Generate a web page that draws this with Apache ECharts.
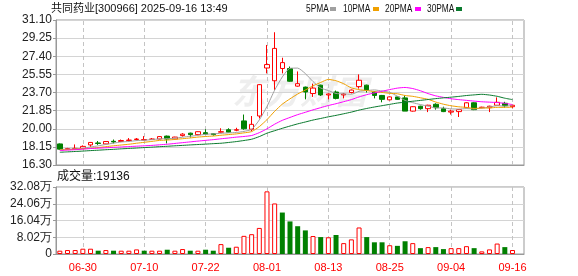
<!DOCTYPE html>
<html><head><meta charset="utf-8">
<script src="https://cdn.jsdelivr.net/npm/echarts@6/dist/echarts.min.js"></script>
<style>html,body{margin:0;padding:0;background:#fff}#c{width:578px;height:276px}</style>
</head><body><div id="c"></div>
<script>
const dates = ['06-25','06-26','06-27','06-30','07-01','07-02','07-03','07-04','07-07','07-08','07-09','07-10','07-11','07-14','07-15','07-16','07-17','07-18','07-21','07-22','07-23','07-24','07-25','07-28','07-29','07-30','07-31','08-01','08-04','08-05','08-06','08-07','08-08','08-11','08-12','08-13','08-14','08-15','08-18','08-19','08-20','08-21','08-22','08-25','08-26','08-27','08-28','08-29','09-01','09-02','09-03','09-04','09-05','09-08','09-09','09-10','09-11','09-12','09-15','09-16'];
const tickDates = ['06-30','07-10','07-22','08-01','08-13','08-25','09-04','09-16'];
const opens = [18.45,17.93,17.95,18.0,18.35,18.55,18.45,18.72,18.7,18.8,18.9,18.85,18.92,18.95,19.25,18.95,19.3,19.55,19.4,19.6,19.5,19.65,19.9,19.85,20.8,19.95,21.3,26.2,24.9,26.15,26.15,24.35,24.25,23.6,24.45,23.45,23.75,23.45,23.7,24.3,24.45,23.75,23.4,22.95,23.25,23.15,21.8,22.3,22.05,22.5,22.05,21.7,21.75,22.15,22.65,22.15,22.15,22.4,22.6,22.25];
const closes = [17.92,17.97,18.0,18.2,18.6,18.5,18.7,18.65,18.8,18.85,18.95,18.9,18.95,19.2,18.95,19.15,19.45,19.4,19.7,19.45,19.4,19.7,19.65,19.9,20.0,20.45,24.5,26.55,28.2,26.75,24.85,24.6,23.75,24.15,23.45,23.55,23.1,23.55,23.95,24.95,23.95,23.4,23.0,23.25,23.0,21.8,22.25,22.05,22.4,22.15,21.75,21.8,21.95,22.65,21.95,22.2,22.3,22.7,22.35,22.4];
const lows = [17.85,17.88,17.92,17.98,18.15,18.35,18.42,18.5,18.65,18.7,18.8,18.8,18.88,18.92,18.5,18.9,19.2,19.1,19.35,19.42,19.3,19.6,19.62,19.75,19.9,19.75,21.05,25.65,23.95,25.65,24.8,24.3,23.0,23.25,23.35,23.0,23.0,23.1,23.6,24.1,23.7,23.1,22.7,22.9,22.95,21.8,21.75,21.95,21.7,21.95,21.7,21.45,21.2,22.1,21.9,22.1,21.7,22.35,22.15,22.1];
const highs = [18.5,18.05,18.4,18.3,18.65,18.75,18.72,18.9,18.9,19.05,19.05,19.25,19.05,19.25,19.3,19.18,19.55,19.6,19.72,19.95,19.55,20.05,20.05,20.1,21.45,21.3,24.55,28.55,29.85,27.25,26.35,25.85,24.3,24.6,24.5,23.6,23.9,23.65,24.0,25.55,24.5,23.8,23.45,23.3,23.3,23.4,22.3,22.35,22.45,22.6,22.25,21.95,21.98,22.7,22.7,22.25,22.35,23.2,22.75,22.45];
const volumes = [1.58,1.9,1.9,2.53,2.53,1.58,1.9,1.58,1.58,1.58,2.2,1.58,1.58,1.58,2.05,1.58,2.37,1.58,1.58,2.05,1.58,4.74,3.0,3.48,8.69,9.48,12.48,30.0,24.2,19.85,15.6,13.3,11.3,8.6,8.1,8.0,9.1,5.2,7.0,12.7,8.1,5.6,5.6,4.2,3.9,6.1,5.2,2.8,3.3,3.3,2.35,2.8,2.8,3.75,2.8,1.25,2.2,5.0,3.3,1.9136];
// MA values for the first points (before a full window exists)
const ma5Head = [17.88,17.92,17.95,18.02];
const ma10Head = [17.84,17.87,17.9,17.95,18.0,18.08,18.17,18.26,18.34];
const ma20Head = [17.78,17.82,17.86,17.92,17.98,18.02,18.06,18.1,18.14,18.18,18.22,18.26,18.3,18.36,18.42,18.5,18.58,18.66,18.74];
const ma30Head = [17.60,17.64,17.68,17.72,17.77,17.81,17.86,17.90,17.95,17.99,18.03,18.08,18.12,18.17,18.21,18.26,18.30,18.35,18.39,18.43,18.48,18.52,18.60,18.69,18.80,18.93,19.20,19.55,19.80];
const priceTicks = [16.30,18.15,20.00,21.85,23.70,25.55,27.40,29.25,31.10];
const legendNames = ['5PMA','10PMA','20PMA','30PMA'];

function ma(n, head){
  return closes.map((c,i)=>{
    if(i < n-1) return head[i];
    let s=0; for(let k=i-n+1;k<=i;k++) s+=closes[k];
    return +(s/n).toFixed(3);
  });
}
const RED='#ff0000', GREEN='#008000';
const MA_COLORS=['#a0a0a0','#f0a000','#ff00ff','#0a7a2e'];
const cats = dates.concat(['']);
const labelFont = 'Liberation Sans';
const dashLines = tickDates.map(d=>({xAxis:d}));
const markLineCfg = {silent:true,symbol:'none',label:{show:false},lineStyle:{color:'#c4c4c4',type:[4,3],width:1},data:dashLines,animation:false,z:1};

const chart = echarts.init(document.getElementById('c'), null, {renderer:'canvas'});
const volData = volumes.map((v,i)=>{
  const up = i===0 ? true : closes[i] >= closes[i-1];
  return {value:v, itemStyle: up ? {color:'#ffffff',borderColor:RED,borderWidth:1} : {color:GREEN,borderColor:GREEN,borderWidth:0}};
});
const lastVol = Math.round(volumes[volumes.length-1]*10000);
const legendX = [306,343,385,427];
const swatchX = [330,373,415,456];
const graphics = [
  {type:'text',left:51,top:3,style:{text:'共同药业[300966] 2025-09-16 13:49',font:'11px "Liberation Sans","Noto Sans CJK SC"',fill:'#111'}},
  {type:'text',left:57,top:171,style:{text:'成交量:'+lastVol,font:'12px "Liberation Sans","Noto Sans CJK SC"',fill:'#111'}},
  {type:'text',left:232,top:74,z:-10,style:{text:'东方财富',font:'italic bold 34px "Noto Sans CJK SC"',fill:'rgba(0,0,0,0.065)'}}
];
legendNames.forEach((name,k)=>{
  graphics.push({type:'text',x:legendX[k],y:3,scaleX:0.76,style:{text:name,font:'11px "Liberation Sans"',fill:'#111'}});
  graphics.push({type:'rect',shape:{x:swatchX[k],y:7,width:6,height:4},style:{fill:MA_COLORS[k]}});
});

chart.setOption({
  animation:false,
  backgroundColor:'#ffffff',
  graphic:graphics,
  grid:[
    {left:56,right:54,top:20,height:145,show:true,borderColor:'#999',borderWidth:1,containLabel:false},
    {left:56,right:54,top:187,height:67,show:true,borderColor:'#999',borderWidth:1,containLabel:false}
  ],
  xAxis:[
    {type:'category',gridIndex:0,data:cats,boundaryGap:true,axisLine:{show:true,lineStyle:{color:'#999'}},axisTick:{show:false},axisLabel:{show:false},splitLine:{show:false}},
    {type:'category',gridIndex:1,data:cats,boundaryGap:true,axisLine:{show:true,lineStyle:{color:'#999'}},axisTick:{show:false},
      axisLabel:{show:true,color:RED,fontFamily:labelFont,fontSize:11,margin:8,interval:(i,v)=>tickDates.indexOf(v)>=0},splitLine:{show:false}}
  ],
  yAxis:[
    {type:'value',gridIndex:0,min:16.30,max:31.10,scale:true,
      axisLine:{show:true,lineStyle:{color:'#999'}},
      axisTick:{show:true,length:3,lineStyle:{color:'#999'},customValues:priceTicks},
      axisLabel:{color:'#222',fontFamily:labelFont,fontSize:12,margin:4,customValues:priceTicks,formatter:v=>v.toFixed(2)},
      splitLine:{show:true,lineStyle:{color:'#d4d4d4',width:1}}},
    {type:'value',gridIndex:1,min:0,max:32.08,interval:8.02,
      axisLine:{show:true,lineStyle:{color:'#999'}},
      axisTick:{show:true,length:3,lineStyle:{color:'#999'}},
      axisLabel:{color:'#222',fontFamily:labelFont,fontSize:12,margin:4,formatter:v=>v===0?'0':v.toFixed(2)+'万'},
      splitLine:{show:true,lineStyle:{color:'#d4d4d4',width:1}}}
  ],
  series:[
    {type:'candlestick',xAxisIndex:0,yAxisIndex:0,barWidth:5,
      data:dates.map((d,i)=>[opens[i],closes[i],lows[i],highs[i]]),
      itemStyle:{color:'#ffffff',color0:GREEN,borderColor:RED,borderColor0:GREEN,borderWidth:1},
      markLine:markLineCfg},
    ...[[5,ma5Head],[10,ma10Head],[20,ma20Head],[30,ma30Head]].map((p,k)=>({
      type:'line',xAxisIndex:0,yAxisIndex:0,data:ma(p[0],p[1]),symbol:'none',smooth:0.2,
      lineStyle:{color:MA_COLORS[k],width:1},itemStyle:{color:MA_COLORS[k]},z:3})),
    {type:'bar',xAxisIndex:1,yAxisIndex:1,barWidth:5,data:volData,markLine:markLineCfg}
  ]
});
</script></body></html>
